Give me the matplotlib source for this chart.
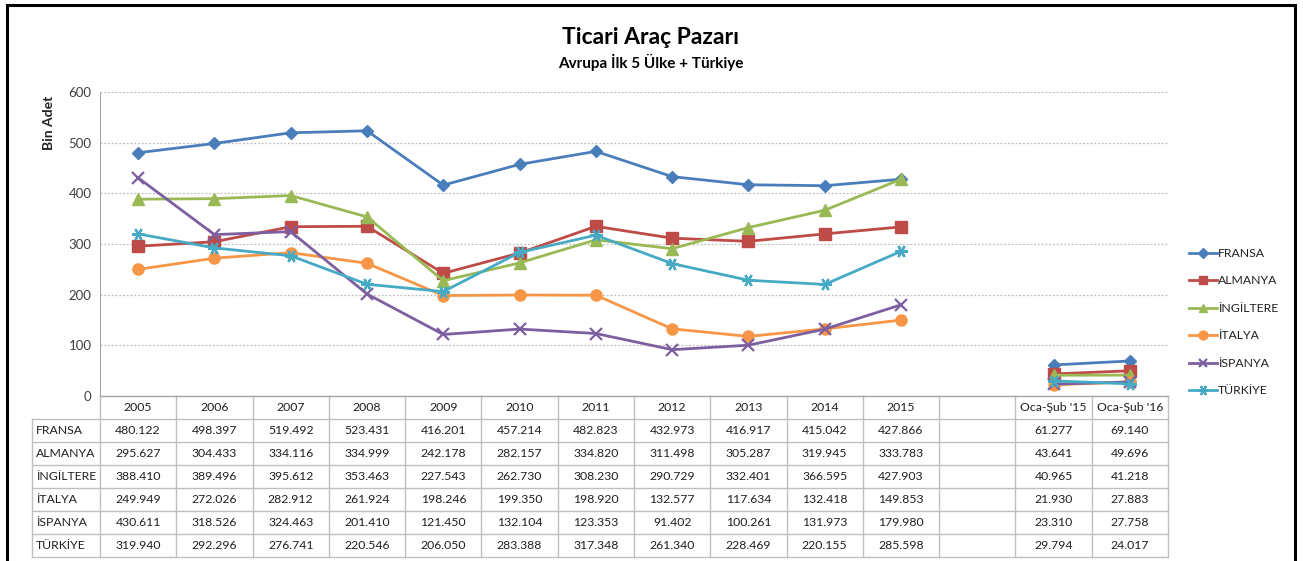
import numpy as np
import matplotlib
matplotlib.use("Agg")
import matplotlib.pyplot as plt
from matplotlib.transforms import blended_transform_factory
from matplotlib.lines import Line2D
from matplotlib.patches import Rectangle

plt.rcParams['font.family'] = ['Lato', 'DejaVu Sans']

categories = ['2005', '2006', '2007', '2008', '2009', '2010', '2011', '2012',
              '2013', '2014', '2015', '', "Oca-Şub '15", "Oca-Şub '16"]
series_names = ['FRANSA', 'ALMANYA', 'İNGİLTERE', 'İTALYA', 'İSPANYA', 'TÜRKİYE']

fransa = [480.122, 498.397, 519.492, 523.431, 416.201, 457.214, 482.823, 432.973, 416.917, 415.042, 427.866, None, 61.277, 69.140]
almanya = [295.627, 304.433, 334.116, 334.999, 242.178, 282.157, 334.820, 311.498, 305.287, 319.945, 333.783, None, 43.641, 49.696]
ingiltere = [388.410, 389.496, 395.612, 353.463, 227.543, 262.730, 308.230, 290.729, 332.401, 366.595, 427.903, None, 40.965, 41.218]
italya = [249.949, 272.026, 282.912, 261.924, 198.246, 199.350, 198.920, 132.577, 117.634, 132.418, 149.853, None, 21.930, 27.883]
ispanya = [430.611, 318.526, 324.463, 201.410, 121.450, 132.104, 123.353, 91.402, 100.261, 131.973, 179.980, None, 23.310, 27.758]
turkiye = [319.940, 292.296, 276.741, 220.546, 206.050, 283.388, 317.348, 261.340, 228.469, 220.155, 285.598, None, 29.794, 24.017]

all_series = [fransa, almanya, ingiltere, italya, ispanya, turkiye]
colors = ['#4A7EBB', '#BE4B48', '#98B954', '#F79646', '#7D5FA0', '#46AAC5']
markers = ['D', 's', '^', 'o', 'x', (6, 2, 90)]
msizes = [6.5, 8, 8, 8, 8, 9]

title = 'Ticari Araç Pazarı'
subtitle = 'Avrupa İlk 5 Ülke + Türkiye'
ylabel = 'Bin Adet'
yticks = [0, 100, 200, 300, 400, 500, 600]

W, H = 1303, 561
fig = plt.figure(figsize=(W / 100, H / 100), dpi=100)
ax = fig.add_axes([100 / W, 1 - 396 / H, 1068 / W, 304 / H])

x = np.arange(len(categories))
for name, vals, c, m, ms in zip(series_names, all_series, colors, markers, msizes):
    y = np.array([np.nan if v is None else v for v in vals], dtype=float)
    mew = 1.6 if m in ('x',) or isinstance(m, tuple) else 1.0
    ax.plot(x, y, color=c, lw=2.0, marker=m, markersize=ms, markeredgecolor=c,
            markerfacecolor=c, markeredgewidth=mew, label=name, zorder=3)

ax.set_xlim(-0.5, len(categories) - 0.5)
ax.set_ylim(0, 600)
ax.set_yticks(yticks)
ax.set_yticklabels([str(t) for t in yticks], fontsize=9.5, color='#404040')
ax.set_xticks([])
ax.tick_params(axis='y', length=0, pad=6)
ax.grid(axis='y', color='#BFBFBF', linestyle=(0, (1.5, 1.5)), lw=0.9)
for s in ['top', 'right']:
    ax.spines[s].set_visible(False)
ax.spines['left'].set_color('#A6A6A6')
ax.spines['bottom'].set_color('#A6A6A6')
ax.set_axisbelow(True)

fig.text(49 / W, 1 - 123 / H, ylabel, rotation=90, fontsize=10, fontweight='bold',
         ha='center', va='center', color='#202020')
fig.text(651 / W, 1 - 37 / H, title, fontsize=16.5, fontweight='bold', ha='center', va='center')
fig.text(651 / W, 1 - 62 / H, subtitle, fontsize=11, fontweight='bold', ha='center', va='center')

# data table
tr = blended_transform_factory(ax.transData, fig.transFigure)
gcol = '#BFBFBF'
top = 1 - 396 / H
hdr_bot = 1 - 419 / H
row_h = 23 / H
n_rows = len(series_names)
bottom = hdr_bot - n_rows * row_h
lab_left = -1.39
xmax = len(categories) - 0.5

ax.add_line(Line2D([-0.5, xmax], [top, top], transform=tr, color=gcol, lw=1, clip_on=False))
for r in range(n_rows + 1):
    yy = hdr_bot - r * row_h
    ax.add_line(Line2D([lab_left, xmax], [yy, yy], transform=tr, color=gcol, lw=1, clip_on=False))
ax.add_line(Line2D([lab_left, lab_left], [hdr_bot, bottom], transform=tr, color=gcol, lw=1, clip_on=False))
for i in range(len(categories) + 1):
    xx = i - 0.5
    ax.add_line(Line2D([xx, xx], [top, bottom], transform=tr, color=gcol, lw=1, clip_on=False))

fs = 8.8
for i, cat in enumerate(categories):
    ax.text(i, (top + hdr_bot) / 2, cat, transform=tr, ha='center', va='center', fontsize=fs, color='#202020')
for r, (name, vals) in enumerate(zip(series_names, all_series)):
    yc = hdr_bot - (r + 0.5) * row_h
    ax.text(lab_left + 0.05, yc, name, transform=tr, ha='left', va='center', fontsize=fs, color='#202020')
    for i, v in enumerate(vals):
        if v is None:
            continue
        ax.text(i, yc, f'{v:.3f}', transform=tr, ha='center', va='center', fontsize=fs, color='#202020')

leg = fig.legend(loc='upper left', bbox_to_anchor=(1184 / W, 1 - 243 / H), frameon=False,
                 fontsize=8.8, handlelength=2.3, handletextpad=0.1, labelspacing=1.35,
                 borderaxespad=0, markerscale=0.8)
for t in leg.get_texts():
    t.set_color('#202020')

fig.add_artist(Rectangle((7 / W, -0.05), (1295 - 7) / W, 1 - 5 / H + 0.05, transform=fig.transFigure,
                         fill=False, edgecolor='black', lw=2.2))

fig.savefig('out.png', dpi=100)
